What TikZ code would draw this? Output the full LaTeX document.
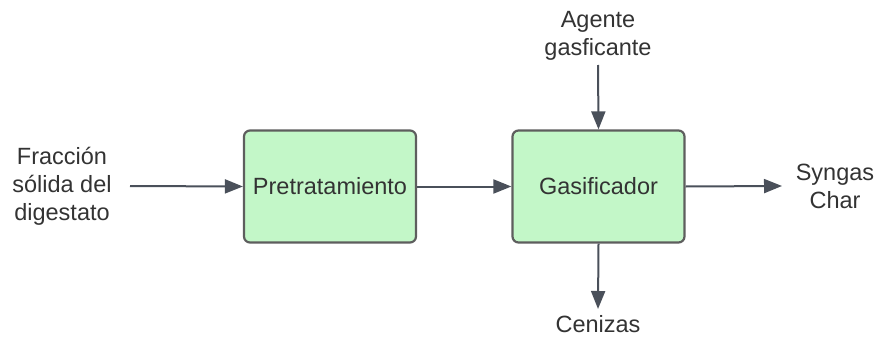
\documentclass[tikz,border=0pt]{standalone}
\usepackage{fontspec}
\setmainfont{Liberation Sans}
\usetikzlibrary{arrows.meta}
\definecolor{boxfill}{HTML}{C3F7C8}
\definecolor{boxline}{HTML}{5E5E5E}
\definecolor{arrowc}{HTML}{4A505A}
\definecolor{txt}{HTML}{333333}
\begin{document}
\begin{tikzpicture}[x=1pt,y=-1pt,
  blk/.style={draw=boxline,fill=boxfill,line width=2.2pt,rounded corners=6pt,minimum width=172pt,minimum height=112pt,inner sep=0pt,text=txt,font=\fontsize{23.5}{28}\selectfont},
  lbl/.style={text=txt,align=center,inner sep=0pt,font=\fontsize{23.5}{28}\selectfont},
  flow/.style={draw=arrowc,line width=2pt,-{Triangle[length=18pt,width=14pt]}}]
\useasboundingbox (0,0) rectangle (877,337);
\node[blk] (pre) at (330,186.5) {Pretratamiento};
\node[blk] (gas) at (598.5,186.5) {Gasificador};
\node[lbl] (in) at (62,186) {Fracción\\sólida del\\digestato};
\node[lbl] (ag) at (598,36) {Agente\\gasficante};
\node[lbl] (out) at (835,186) {Syngas\\Char};
\node[lbl] (cen) at (598,324) {Cenizas};
\coordinate (inE) at (130,186);
\coordinate (agS) at (598,65);
\coordinate (outW) at (782,186);
\coordinate (cenN) at (598,309);
\draw[flow] (inE) -- (pre.west);
\draw[flow] (pre.east) -- (gas.west);
\draw[flow] (gas.east) -- (outW);
\draw[flow] (agS) -- (gas.north);
\draw[flow] (gas.south) -- (cenN);
\end{tikzpicture}
\end{document}
